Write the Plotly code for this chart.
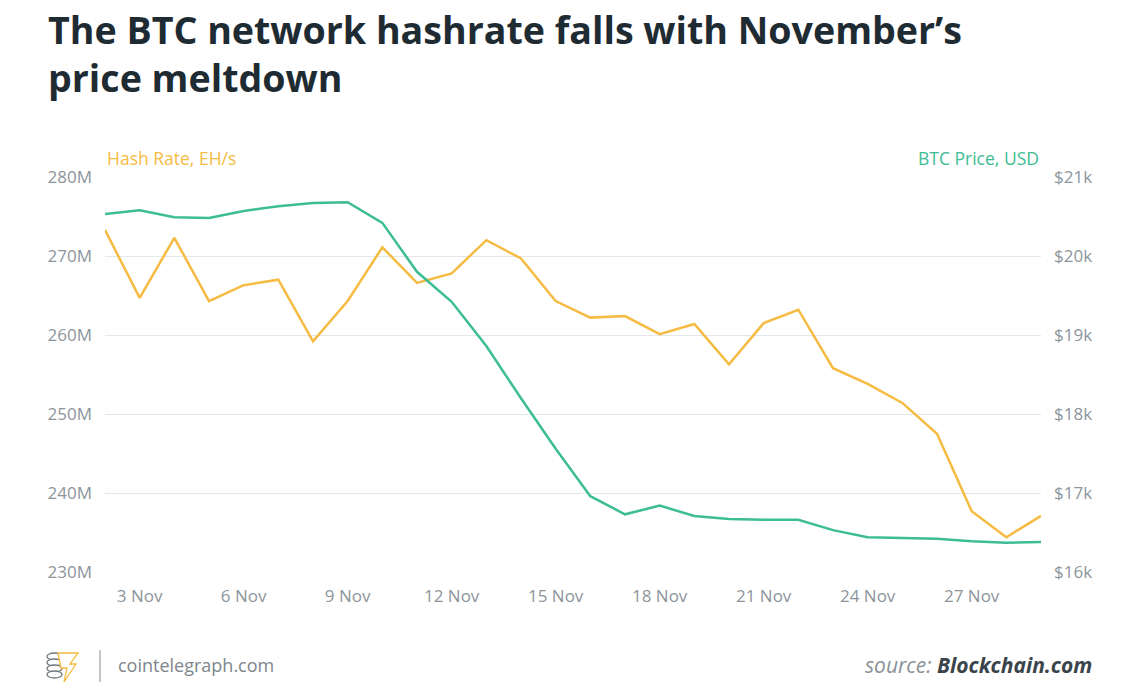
import plotly.graph_objects as go

dates = [f"2022-11-{d:02d}" for d in range(2, 30)]
hash_rate_m = [273.3, 264.7, 272.3, 264.3, 266.3, 267.0, 259.2, 264.3, 271.1, 266.6,
               267.8, 272.0, 269.7, 264.3, 262.2, 262.4, 260.1, 261.4, 256.3, 261.5,
               263.2, 255.8, 253.8, 251.4, 247.5, 237.7, 234.4, 237.1]
btc_price_k = [20.53, 20.58, 20.49, 20.48, 20.57, 20.63, 20.67, 20.68, 20.42, 19.80,
               19.42, 18.86, 18.20, 17.56, 16.96, 16.73, 16.84, 16.71, 16.67, 16.66,
               16.66, 16.53, 16.44, 16.43, 16.42, 16.39, 16.37, 16.38]
tick_dates = ["2022-11-03", "2022-11-06", "2022-11-09", "2022-11-12", "2022-11-15",
              "2022-11-18", "2022-11-21", "2022-11-24", "2022-11-27"]
tick_labels = ["3 Nov", "6 Nov", "9 Nov", "12 Nov", "15 Nov", "18 Nov", "21 Nov", "24 Nov", "27 Nov"]
hash_ticks = [230, 240, 250, 260, 270, 280]
hash_tick_labels = ["230M", "240M", "250M", "260M", "270M", "280M"]
price_ticks = [16, 17, 18, 19, 20, 21]
price_tick_labels = ["$16k", "$17k", "$18k", "$19k", "$20k", "$21k"]

ORANGE = "#f6bb42"
GREEN = "#3dbd93"
GRAY = "#8c959b"
DARK = "#1f2b33"
FONT = "Open Sans"

fig = go.Figure()
fig.add_trace(go.Scatter(x=dates, y=btc_price_k, mode="lines", yaxis="y2",
                         line=dict(color=GREEN, width=2.5), name="BTC Price, USD"))
fig.add_trace(go.Scatter(x=dates, y=hash_rate_m, mode="lines", yaxis="y",
                         line=dict(color=ORANGE, width=2.5), name="Hash Rate, EH/s"))

fig.update_layout(
    width=1140, height=694,
    margin=dict(l=105, r=99, t=177, b=122),
    paper_bgcolor="white", plot_bgcolor="white",
    showlegend=False,
    font=dict(family=FONT, color=GRAY, size=17),
    xaxis=dict(range=["2022-11-02", "2022-11-29"], tickvals=tick_dates, ticktext=tick_labels,
               showgrid=False, zeroline=False, showline=False, ticks="",
               tickfont=dict(size=17, color=GRAY), ticklabelstandoff=12),
    yaxis=dict(range=[230, 280], tickvals=hash_ticks, ticktext=hash_tick_labels,
               showgrid=True, gridcolor="#e4e7ea", gridwidth=1, zeroline=False, showline=False,
               ticks="", tickfont=dict(size=17, color=GRAY), ticklabelstandoff=12),
    yaxis2=dict(range=[16, 21], tickvals=price_ticks, ticktext=price_tick_labels,
                overlaying="y", side="right", showgrid=False, zeroline=False, showline=False,
                ticks="", tickfont=dict(size=17, color=GRAY), ticklabelstandoff=12),
)

fig.add_annotation(xref="paper", yref="paper", x=0, y=1, yshift=5, xanchor="left", yanchor="bottom",
                   text="Hash Rate, EH/s", showarrow=False, font=dict(family=FONT, size=17.5, color=ORANGE))
fig.add_annotation(xref="paper", yref="paper", x=1, y=1, yshift=5, xanchor="right", yanchor="bottom",
                   text="BTC Price, USD", showarrow=False, font=dict(family=FONT, size=17.5, color=GREEN))

def px(x):
    return (x - 105) / 936
def py(y):
    return (572 - y) / 395

fig.add_annotation(xref="paper", yref="paper", x=px(46), y=py(29), xanchor="left", yanchor="middle",
                   text="<b>The BTC network hashrate falls with November’s</b>",
                   align="left", showarrow=False,
                   font=dict(family=FONT, size=37.6, color=DARK))
fig.add_annotation(xref="paper", yref="paper", x=px(46), y=py(77), xanchor="left", yanchor="middle",
                   text="<b>price meltdown</b>",
                   align="left", showarrow=False,
                   font=dict(family=FONT, size=37.6, color=DARK))

# footer
fig.add_annotation(xref="paper", yref="paper", x=px(116), y=py(665), xanchor="left", yanchor="middle",
                   text="cointelegraph.com", showarrow=False,
                   font=dict(family=FONT, size=18, color="#7d868c"))
fig.add_annotation(xref="paper", yref="paper", x=px(1094), y=py(665), xanchor="right", yanchor="middle",
                   text="<i>source: </i><i><b style='color:#3a444b'>Blockchain.com</b></i>", showarrow=False,
                   font=dict(family=FONT, size=21, color="#8a9298"))

fig.add_shape(type="line", xref="paper", yref="paper", x0=px(100), x1=px(100), y0=py(650), y1=py(682),
              line=dict(color="#9aa2a7", width=1.2))
for cy in [656, 662, 668, 674]:
    fig.add_shape(type="circle", xref="paper", yref="paper", x0=px(47), x1=px(62), y0=py(cy + 4), y1=py(cy - 3),
                  line=dict(color="#6f787e", width=1.3), fillcolor="white")
fig.add_shape(type="path", xref="paper", yref="paper",
              path=f"M {px(58)} {py(653)} L {px(78)} {py(653)} L {px(70)} {py(664)} L {px(76)} {py(664)} L {px(64)} {py(682)} L {px(67)} {py(668)} L {px(61)} {py(668)} Z",
              line=dict(color=ORANGE, width=1.3), fillcolor="white")

fig.write_html("out.html")
